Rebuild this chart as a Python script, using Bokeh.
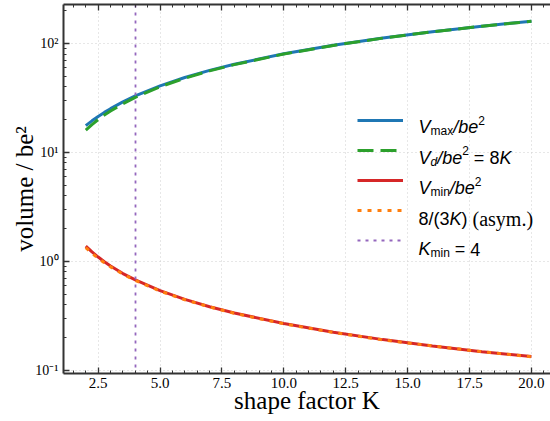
from bokeh.plotting import figure
from bokeh.models import (LinearAxis, FixedTicker, SingleIntervalTicker, PrintfTickFormatter,
                          CustomJSTickFormatter, Legend, LegendItem, Label, Range1d)
from bokeh.embed import file_html
from bokeh.resources import INLINE

# ---------------- data ----------------
K = [2.0, 2.25, 2.5, 2.75, 3.0, 3.5, 4.0, 5.0, 6.0, 7.0, 8.0, 10.0, 12.0, 14.0, 16.0, 18.0, 20.0]
V_MAX = [17.6, 19.5, 21.4, 23.3, 25.2, 29.1, 33.0, 40.8, 48.7, 56.6, 64.5, 80.4, 96.3, 112.3, 128.2, 144.2, 160.2]
V_D = [16.0, 18.0, 20.0, 22.0, 24.0, 28.0, 32.0, 40.0, 48.0, 56.0, 64.0, 80.0, 96.0, 112.0, 128.0, 144.0, 160.0]
V_MIN = [1.38, 1.22, 1.094, 0.99, 0.905, 0.772, 0.675, 0.538, 0.447, 0.383, 0.335, 0.268, 0.223, 0.191, 0.167, 0.148, 0.1335]
V_ASYM = [1.333, 1.185, 1.067, 0.970, 0.889, 0.762, 0.667, 0.533, 0.444, 0.381, 0.333, 0.267, 0.222, 0.190, 0.167, 0.148, 0.133]
K_MIN = 4.0
Y_TICKS = [0.1, 1.0, 10.0, 100.0]
Y_MINOR = [m * 10.0 ** e for e in (-2, -1, 0, 1, 2) for m in range(2, 10)]
X_LABEL = "shape factor K"
Y_LABEL = "volume / be\u00b2"

# ---------------- figure ----------------
FL, FB = 63, 373  # frame left / bottom in canvas px
p = figure(width=550, height=421, x_range=Range1d(1.1, 20.77), y_range=Range1d(0.0933, 228),
           y_axis_type="log", output_backend="svg", toolbar_location=None,
           min_border_left=FL, min_border_right=0, min_border_top=4, min_border_bottom=421 - FB)
p.outline_line_color = None
p.background_fill_color = "white"
p.border_fill_color = "white"

SPINE = "#333333"
SERIF = "Liberation Serif"
SANS = "Liberation Sans"
xt = SingleIntervalTicker(interval=2.5, num_minor_ticks=5)
xa = p.xaxis[0]
xa.ticker = xt
xa.formatter = PrintfTickFormatter(format="%.1f")
ya = p.yaxis[0]
ya.ticker = FixedTicker(ticks=Y_TICKS, minor_ticks=Y_MINOR)
ya.formatter = CustomJSTickFormatter(code="""
const e = Math.round(Math.log10(tick));
const sup = {"-": "\u207b", "0": "\u2070", "1": "\u00b9", "2": "\u00b2", "3": "\u00b3",
             "4": "\u2074", "5": "\u2075", "6": "\u2076", "7": "\u2077", "8": "\u2078", "9": "\u2079"};
return "10" + String(e).split("").map(c => sup[c]).join("");
""")
top = LinearAxis(ticker=xt, major_label_text_font_size="0px", major_label_standoff=0)
p.add_layout(top, "above")

for ax in (xa, ya, top):
    ax.axis_line_color = SPINE
    ax.axis_line_width = 2
    ax.major_tick_line_color = SPINE
    ax.minor_tick_line_color = SPINE
    ax.major_tick_line_width = 1.3
    ax.minor_tick_line_width = 1
    ax.major_tick_in = 6
    ax.major_tick_out = 0
    ax.minor_tick_in = 3
    ax.minor_tick_out = 0
for ax in (xa, ya):
    ax.major_label_text_font = SERIF
    ax.major_label_text_color = "black"
    ax.axis_label_text_font = SERIF
    ax.axis_label_text_font_size = "25px"
    ax.axis_label_text_font_style = "normal"
    ax.axis_label_text_color = "black"
xa.major_label_text_font_size = "15px"
ya.major_label_text_font_size = "14px"
xa.major_label_standoff = 4
ya.major_label_standoff = 5
xa.axis_label = X_LABEL
ya.axis_label = Y_LABEL
xa.axis_label_standoff = -4
ya.axis_label_standoff = -6

for g in (p.xgrid[0], p.ygrid[0]):
    g.grid_line_color = "#cfcfcf"
    g.grid_line_dash = "1 3"
    g.grid_line_width = 1

# ---------------- lines ----------------
r_max = p.line(K, V_MAX, line_color="#1f77b4", line_width=3)
r_d = p.line(K, V_D, line_color="#2ca02c", line_width=3, line_dash="16 7")
r_min = p.line(K, V_MIN, line_color="#d62728", line_width=3)
r_asym = p.line(K, V_ASYM, line_color="#ff7f0e", line_width=3, line_dash="4 6")
r_k = p.vspan(x=[K_MIN], line_color="#9467bd", line_width=1.8, line_dash="3 5")

legend = Legend(items=[LegendItem(label=" ", renderers=[r]) for r in (r_max, r_d, r_min, r_asym, r_k)],
                location=(357 - FL, FB - 249.5), glyph_width=46, glyph_height=20, label_height=20,
                spacing=10, padding=0, margin=0, border_line_color=None, background_fill_alpha=0,
                label_text_font_size="8px", label_standoff=0, label_width=5)
p.add_layout(legend)

# ---------------- legend texts (mixed styles) ----------------
W_SANS = {"V": .667, "m": .833, "a": .556, "x": .5, "/": .278, "b": .556, "e": .556, "2": .556,
          "d": .556, " ": .278, "=": .584, "8": .556, "K": .667, "i": .222, "n": .556, "(": .333,
          ")": .333, "3": .556, "4": .556}
W_SERIF = {"(": .333, "a": .444, "s": .389, "y": .5, "m": .778, ".": .25, ")": .333, " ": .25}


def text_w(s, font, size):
    table = W_SANS if font == SANS else W_SERIF
    return sum(table.get(c, .5) for c in s) * size


def rich(parts, x0, y0):
    """parts: (text, font, size, style, shift); shift = baseline offset (+ = up)"""
    adv = 0.0
    for text, font, size, style, shift in parts:
        stripped = text.lstrip(" ")
        adv += text_w(text[:len(text) - len(stripped)], font, size)
        p.add_layout(Label(x=x0 + adv, y=y0 + shift, x_units="screen", y_units="screen", text=stripped,
                           text_font=font, text_font_size=f"{size}px", text_font_style=style,
                           text_baseline="alphabetic", text_align="left", text_color="black"))
        adv += text_w(stripped, font, size)


LX = 418 - FL
BASE = [126.5 + 30.6 * i for i in range(5)]
M, S = 18, 12
rows = [
    [("V", SANS, M, "italic", 0), ("max", SANS, S, "normal", -4), ("/be", SANS, M, "italic", 0),
     ("2", SANS, S, "normal", 7)],
    [("V", SANS, M, "italic", 0), ("d", SANS, S, "italic", -4), ("/be", SANS, M, "italic", 0),
     ("2", SANS, S, "normal", 7), (" =", SANS, M, "normal", 0), (" 8", SANS, M, "normal", 0),
     ("K", SANS, M, "italic", 0)],
    [("V", SANS, M, "italic", 0), ("min", SANS, S, "normal", -4), ("/be", SANS, M, "italic", 0),
     ("2", SANS, S, "normal", 7)],
    [("8/(3", SANS, M, "normal", 0), ("K", SANS, M, "italic", 0), (")", SANS, M, "normal", 0),
     (" (asym.)", SERIF, 20, "normal", 0)],
    [("K", SANS, M, "italic", 0), ("min", SANS, S, "normal", -4), (" =", SANS, M, "normal", 0),
     (" 4", SANS, M, "normal", 0)],
]
for parts, b in zip(rows, BASE):
    rich(parts, LX, FB - b)

open("out.html", "w").write(file_html(p, INLINE))
